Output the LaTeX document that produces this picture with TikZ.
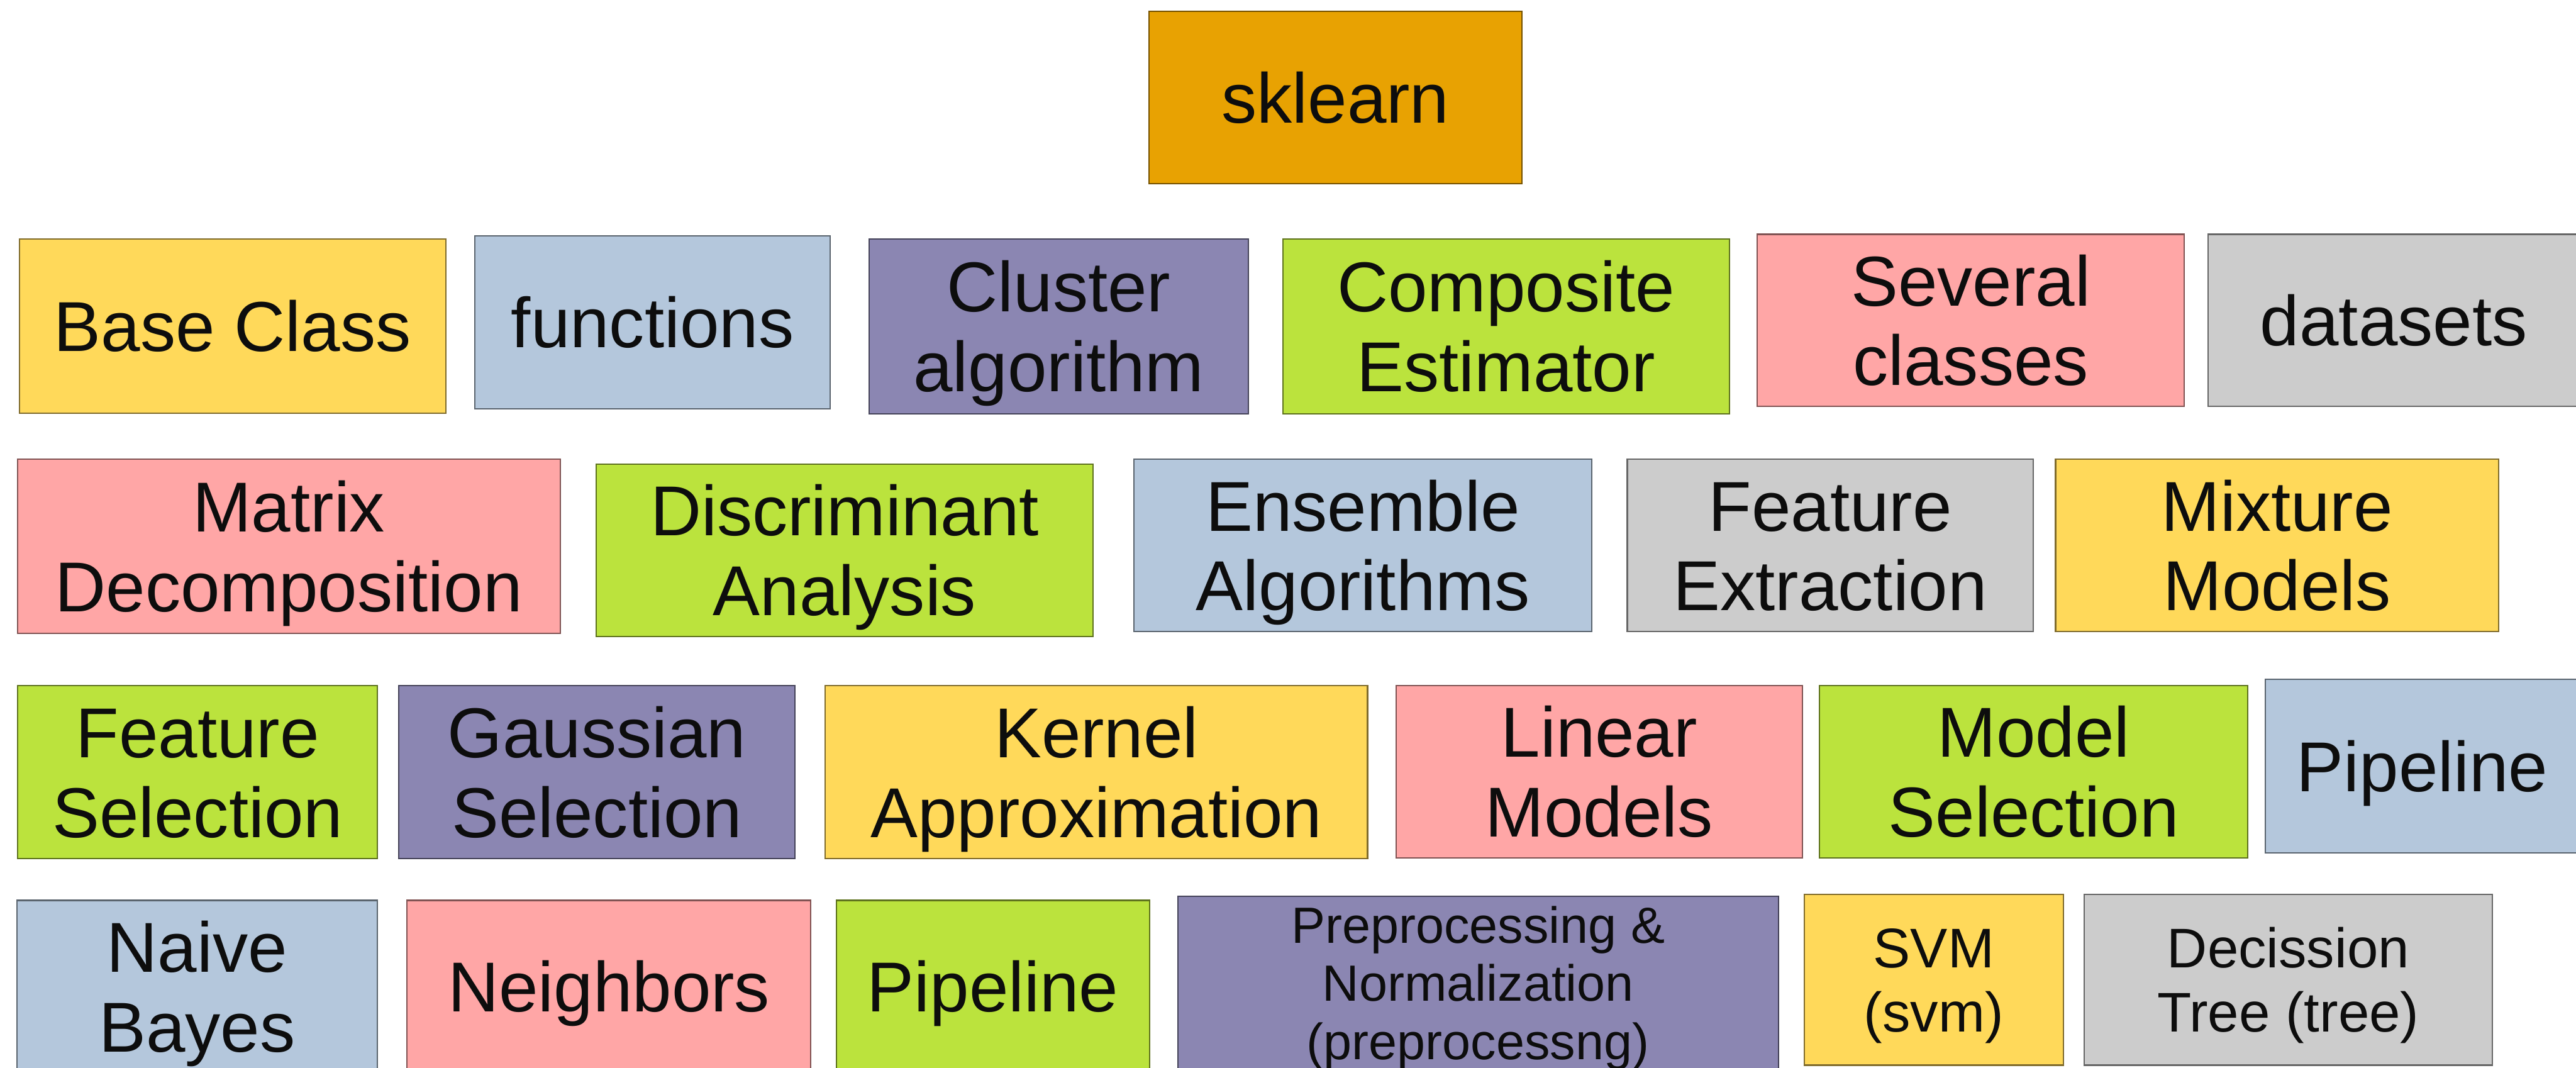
\documentclass[tikz,border=0pt]{standalone}
\usepackage{fontspec}
\setmainfont{Liberation Sans}
\definecolor{orangeC}{HTML}{E8A202}
\definecolor{yellowC}{HTML}{FFD95A}
\definecolor{blueC}{HTML}{B4C7DC}
\definecolor{purpleC}{HTML}{8B86B2}
\definecolor{greenC}{HTML}{BBE33D}
\definecolor{pinkC}{HTML}{FFA6A6}
\definecolor{grayC}{HTML}{CCCCCC}
\newcommand{\mybox}[7]{%
  \pgfmathsetmacro\myW{#5-#3}\pgfmathsetmacro\myH{#6-#4}%
  \node[#2, minimum width=\myW pt, minimum height=\myH pt] (#1) at ({(#3+#5)/2},{(#4+#6)/2}) {#7};}
\begin{document}
\begin{tikzpicture}[x=1pt,y=-1pt,
  box/.style={rectangle, fill=#1, draw=#1!50!black, line width=0.8pt, inner sep=0pt, align=center, text=black!95},
  one/.style={font=\fontsize{43}{48.5}\selectfont, text height=30.8pt, text depth=0pt},
  two/.style={font=\fontsize{43}{48.5}\selectfont, text height=79.3pt, text depth=0pt},
  mid/.style={font=\fontsize{34}{39}\selectfont, text height=63.3pt, text depth=0pt},
  small/.style={font=\fontsize{31}{35.5}\selectfont, text height=93.2pt, text depth=0pt}]
\useasboundingbox[fill=white] (0,0) rectangle (1568,650);
% top
\mybox{sk}{box=orangeC,one}{699.4}{6.8}{926.3}{111.7}{sklearn}
% row 1
\mybox{base}{box=yellowC,one}{11.7}{145.5}{271.4}{251.6}{Base Class}
\mybox{func}{box=blueC,one}{289}{143.5}{505.4}{248.7}{functions}
\mybox{clus}{box=purpleC,two}{528.9}{145.5}{760}{251.8}{Cluster\\algorithm}
\mybox{comp}{box=greenC,two}{780.8}{145.5}{1052.6}{251.8}{Composite\\Estimator}
\mybox{sev}{box=pinkC,two}{1069.7}{142.6}{1329.5}{247.2}{Several\\classes}
\mybox{data}{box=grayC,one}{1344.1}{142.6}{1570}{247.2}{datasets}
% row 2
\mybox{matrix}{box=pinkC,two}{10.6}{279.5}{341}{385.4}{Matrix\\Decomposition}
\mybox{disc}{box=greenC,two}{363}{282.6}{665.3}{387.3}{Discriminant\\Analysis}
\mybox{ens}{box=blueC,two}{690.2}{279.5}{968.9}{384.4}{Ensemble\\Algorithms}
\mybox{fext}{box=grayC,two}{990.5}{279.5}{1237.6}{384.4}{Feature\\Extraction}
\mybox{mix}{box=yellowC,two}{1251.2}{279.5}{1520.9}{384.4}{Mixture\\Models}
% row 3
\mybox{fsel}{box=greenC,two}{10.8}{417.4}{229.8}{522.4}{Feature\\Selection}
\mybox{gauss}{box=purpleC,two}{242.8}{417.4}{483.9}{522.4}{Gaussian\\Selection}
\mybox{kern}{box=yellowC,two}{502.4}{417.4}{832.4}{522.4}{Kernel\\Approximation}
\mybox{lin}{box=pinkC,two}{849.8}{417.4}{1097}{522}{Linear\\Models}
\mybox{msel}{box=greenC,two}{1107.6}{417.4}{1368.2}{522}{Model\\Selection}
\mybox{pipeA}{box=blueC,one}{1378.8}{413.5}{1570}{519}{Pipeline}
% row 4
\mybox{nb}{box=blueC,two}{10.4}{548}{229.6}{653}{Naive\\Bayes}
\mybox{neigh}{box=pinkC,one}{247.8}{548}{493.5}{653}{Neighbors}
\mybox{pipeB}{box=greenC,one}{509}{548}{699.7}{653}{Pipeline}
\mybox{prep}{box=purpleC,small}{716.9}{545.5}{1082.5}{651}{Preprocessing \&\\Normalization\\(preprocessng)}
\mybox{svm}{box=yellowC,mid}{1098.2}{544.3}{1255.9}{648.3}{SVM\\(svm)}
\mybox{dtree}{box=grayC,mid}{1268.5}{544.3}{1517.1}{648.3}{Decission\\Tree (tree)}
\end{tikzpicture}
\end{document}
